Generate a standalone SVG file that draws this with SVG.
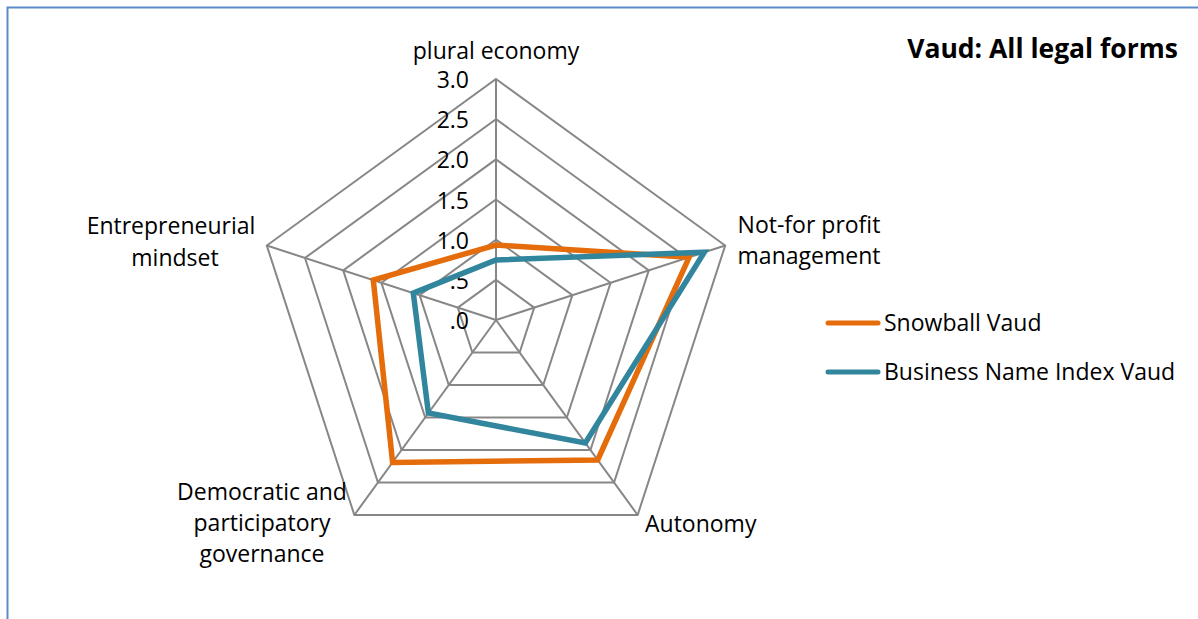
<svg xmlns="http://www.w3.org/2000/svg" width="1198" height="619" viewBox="0 0 1198 619">
<style>
.grid{fill:none;stroke:#878787;stroke-width:2}
.lbl{font-family:"Open Sans","Liberation Sans",sans-serif;font-size:23px;fill:#000}
.axn{font-family:"Open Sans","Liberation Sans",sans-serif;font-size:23px;fill:#000;text-anchor:end}
.c{text-anchor:middle}
.s1{fill:none;stroke:#E46C0A;stroke-width:5.5;stroke-linejoin:miter}
.s2{fill:none;stroke:#31859C;stroke-width:5.5;stroke-linejoin:miter}
</style>
<rect width="1198" height="619" fill="#fff"/>
<path d="M7.5,619 V7.5 H1198" fill="none" stroke="#5B8BC9" stroke-width="2"/>
<g id="grid">
<polygon class="grid" points="496,279.83 534.20,307.59 519.61,352.50 472.39,352.50 457.80,307.59"/>
<polygon class="grid" points="496,239.67 572.40,295.18 543.22,384.99 448.78,384.99 419.60,295.18"/>
<polygon class="grid" points="496,199.5 610.60,282.76 566.83,417.49 425.17,417.49 381.40,282.76"/>
<polygon class="grid" points="496,159.33 648.80,270.35 590.44,449.98 401.56,449.98 343.20,270.35"/>
<polygon class="grid" points="496,119.17 687.00,257.94 614.05,482.48 377.95,482.48 305.00,257.94"/>
<polygon class="grid" points="496,79 725.21,245.53 637.66,514.97 354.34,514.97 266.79,245.53"/>
<path class="grid" d="M496,320 L496,79 M496,320 L725.21,245.53 M496,320 L637.66,514.97 M496,320 L354.34,514.97 M496,320 L266.79,245.53"/>
</g>
<g id="axis-values">
<text class="axn" x="469" y="88">3.0</text>
<text class="axn" x="469" y="128">2.5</text>
<text class="axn" x="469" y="168">2.0</text>
<text class="axn" x="469" y="209">1.5</text>
<text class="axn" x="469" y="249">1.0</text>
<text class="axn" x="469" y="289">.5</text>
<text class="axn" x="469" y="329">.0</text>
</g>
<g id="series">
<polygon id="snowball" class="s1" points="496,245 689.1,257.3 597.7,460 392.6,462.4 373.3,280.1"/>
<polygon id="bni" class="s2" points="496,260 704.3,252.3 585.3,443 428.4,413 413.3,293.1"/>
</g>
<g id="category-labels">
<text class="lbl c" x="496" y="59">plural economy</text>
<text class="lbl c" x="809" y="233">Not-for profit</text>
<text class="lbl c" x="809" y="264">management</text>
<text class="lbl c" x="171" y="234">Entrepreneurial</text>
<text class="lbl c" x="175" y="266">mindset</text>
<text class="lbl" x="645" y="532">Autonomy</text>
<text class="lbl c" x="262" y="500">Democratic and</text>
<text class="lbl c" x="262" y="531">participatory</text>
<text class="lbl c" x="262" y="562">governance</text>
</g>
<g id="title">
<text x="1178" y="58" font-family="Open Sans, Liberation Sans, sans-serif" font-size="26.5" font-weight="bold" text-anchor="end">Vaud: All legal forms</text>
</g>
<g id="legend">
<line x1="828" y1="323" x2="878" y2="323" stroke="#E46C0A" stroke-width="5" stroke-linecap="round"/>
<text class="lbl" x="884" y="331">Snowball Vaud</text>
<line x1="828" y1="372" x2="878" y2="372" stroke="#31859C" stroke-width="5" stroke-linecap="round"/>
<text class="lbl" x="884" y="380">Business Name Index Vaud</text>
</g>
</svg>
